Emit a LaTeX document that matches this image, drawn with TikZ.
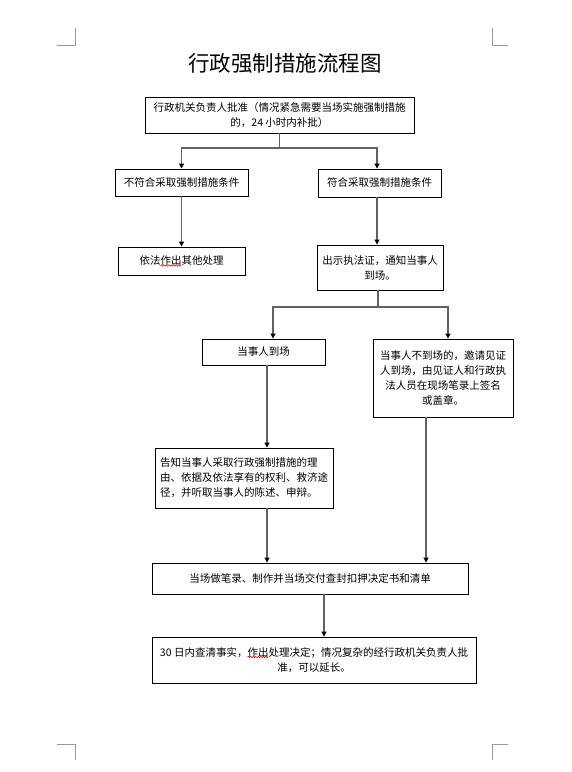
\documentclass[tikz,border=0pt]{standalone}
\usepackage{fontspec}
\setmainfont{Noto Sans CJK SC}
\usetikzlibrary{arrows.meta,decorations.pathmorphing,calc}
\tikzset{
  box/.style={draw=black, line width=0.9pt, inner sep=2pt, align=center,
    font=\fontsize{10.5}{15}\selectfont},
  conn/.style={draw=black!62, line width=1.1pt},
  arr/.style={conn, -{Triangle[length=5pt,width=5pt,color=black,fill=black]}},
  cropmark/.style={draw=black!40, line width=0.8pt},
  squig/.style={draw=red!80!black, line width=0.5pt, decorate,
    decoration={snake, amplitude=0.7pt, segment length=2.5pt}}
}
\begin{document}
\begin{tikzpicture}[x=1pt,y=-1pt]
\useasboundingbox (0,0) rectangle (572,772);
% crop marks
\draw[cropmark] (57,45) -- (75,45) -- (75,28);
\draw[cropmark] (492,28) -- (492,45) -- (508,45);
\draw[cropmark] (57,744) -- (75,744) -- (75,760);
\draw[cropmark] (508,744) -- (492,744) -- (492,760);

\node[font=\fontsize{21.5}{24}\selectfont] (title) at (285,63) {行政强制措施流程图};

\node[box, minimum width=269pt, minimum height=36pt] (b1) at (279.5,115)
  {行政机关负责人批准（情况紧急需要当场实施强制措施\\的，24 小时内补批）};
\node[box, minimum width=133pt, minimum height=27pt] (b2) at (181.5,182.5)
  {不符合采取强制措施条件};
\node[box, minimum width=123pt, minimum height=28pt] (b3) at (379.5,183)
  {符合采取强制措施条件};
\node[box, minimum width=127pt, minimum height=28pt] (b4) at (181.5,261)
  {依法作出其他处理};
\node[box, minimum width=126pt, minimum height=45pt] (b5) at (380,267.5)
  {出示执法证，通知当事人\\到场。};
\node[box, minimum width=123pt, minimum height=26pt] (b6) at (263.5,352)
  {当事人到场};
\node[box, minimum width=140pt, minimum height=78pt] (b7) at (443,378)
  {当事人不到场的，邀请见证\\人到场，由见证人和行政执\\法人员在现场笔录上签名\\或盖章。};
\node[box, align=left, minimum width=178pt, minimum height=60pt] (b8) at (244,478)
  {告知当事人采取行政强制措施的理\\由、依据及依法享有的权利、救济途\\径，并听取当事人的陈述、申辩。};
\node[box, minimum width=316pt, minimum height=31pt] (b9) at (310,578.5)
  {当场做笔录、制作并当场交付查封扣押决定书和清单};
\node[box, minimum width=324pt, minimum height=46pt] (b10) at (314,660)
  {30 日内查清事实，作出处理决定；情况复杂的经行政机关负责人批\\准，可以延长。};

% connector positions
\coordinate (j1) at (279.5,148);
\coordinate (xR1) at (377,0);
\coordinate (j2) at (378,307);
\coordinate (x6in) at (273,0);
\coordinate (x7in) at (448,0);
\coordinate (x68) at (267,0);
\coordinate (x79) at (426,0);
\coordinate (x910) at (324,0);

\draw[conn] (b1.south) -- (j1);
\draw[arr] (j1) -| (b2.north);
\draw[arr] (j1) -| (xR1 |- b3.north);
\draw[arr] (b2.south) -- (b4.north);
\draw[arr] (xR1 |- b3.south) -- (xR1 |- b5.north);
\draw[conn] (j2 |- b5.south) -- (j2);
\draw[arr] (j2) -| (x6in |- b6.north);
\draw[arr] (j2) -| (x7in |- b7.north);
\draw[arr] (x68 |- b6.south) -- (x68 |- b8.north);
\draw[arr] (x68 |- b8.south) -- (x68 |- b9.north);
\draw[arr] (x79 |- b7.south) -- (x79 |- b9.north);
\draw[arr] (x910 |- b9.south) -- (x910 |- b10.north);

% spell-check squiggles
\draw[squig] ($(b4.center)+(-21,4.5)$) -- ($(b4.center)+(0,4.5)$);
\draw[squig] ($(b10.center)+(-66.5,-3)$) -- ($(b10.center)+(-45.5,-3)$);
\end{tikzpicture}
\end{document}
